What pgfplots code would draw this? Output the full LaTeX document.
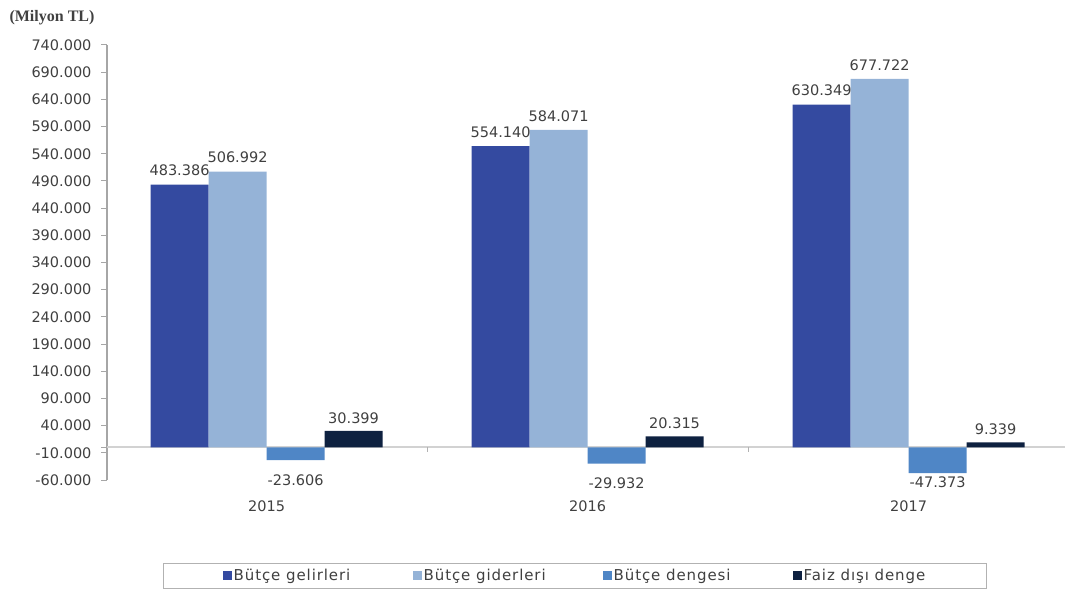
\documentclass[border=0pt]{standalone}
\usepackage{fontspec}
\setmainfont{DejaVu Sans}
\newfontfamily\titlefont{Liberation Serif}
\usepackage{pgfplots}
\pgfplotsset{compat=1.18}
\definecolor{c1}{RGB}{52,74,160}
\definecolor{c2}{RGB}{149,179,215}
\definecolor{c3}{RGB}{79,134,198}
\definecolor{c4}{RGB}{14,33,64}
\definecolor{txt}{RGB}{64,64,64}
\pgfplotsset{sqlegend/.style={legend image code/.code={\fill[##1] (0pt,-4.5pt) rectangle (9pt,4.5pt);}}}
\begin{document}
\begin{tikzpicture}
\useasboundingbox (0,0) rectangle (1067pt,592pt);
\node[anchor=west, font=\titlefont\bfseries\fontsize{16}{18}\selectfont, text=txt] at (6pt,574pt) {(Milyon TL)};
\begin{axis}[
 at={(107pt,112pt)}, anchor=south west,
 width=958pt, height=435pt, scale only axis,
 ybar=0pt, bar width=58pt,
 xmin=-0.497, xmax=2.487,
 ymin=-60000, ymax=740000,
 xtick={0,1,2}, xticklabels={2015,2016,2017},
 ytick={-60000,-10000,40000,90000,140000,190000,240000,290000,340000,390000,440000,490000,540000,590000,640000,690000,740000},
 scaled y ticks=false,
 /pgf/number format/assume math mode=true,
 yticklabel style={/pgf/number format/fixed, /pgf/number format/precision=0, /pgf/number format/1000 sep={.}, xshift=-6pt},
 axis lines*=left,
 x axis line style={draw=none},
 xtick style={draw=none},
 y axis line style={draw=gray!70, line width=1.2pt},
 ytick style={draw=gray!70, line width=1pt},
 ytick align=outside, major tick length=6pt,
 tick label style={font=\fontsize{14.5}{16}\selectfont, text=txt},
 xticklabel style={yshift=-11pt},
 extra y ticks={0}, extra y tick labels={},
 extra y tick style={grid=major, major grid style={draw=gray!35, line width=2pt}, tick style={draw=none}},
 nodes near coords,
 nodes near coords style={font=\fontsize{14.5}{16}\selectfont, text=txt, /pgf/number format/fixed, /pgf/number format/precision=0, /pgf/number format/1000 sep={.}},
 every axis plot post/.append style={sqlegend},
 legend columns=4,
 legend style={at={(0.4885,-0.2195)}, anchor=center, draw=gray!60, line width=0.8pt, font=\fontsize{15}{17}\selectfont\addfontfeature{LetterSpace=6}, text=txt, inner xsep=59pt, inner ysep=4pt},
]
\addplot[fill=c1, draw=none, every node near coord/.append style={yshift=5pt}] coordinates {(0,483386) (1,554140) (2,630349)};
\addlegendentry{\makebox[177pt][l]{Bütçe gelirleri}}
\addplot[fill=c2, draw=none, every node near coord/.append style={yshift=5pt}] coordinates {(0,506992) (1,584071) (2,677722)};
\addlegendentry{\makebox[177pt][l]{Bütçe giderleri}}
\addplot[fill=c3, draw=none, visualization depends on={value \thisrow{off} \as \off}, every node near coord/.append style={yshift=\off pt}] table[x=x, y=y] {
x y off
0 -23606 -11
1 -29932 -11
2 -47373 0
};
\addlegendentry{\makebox[177pt][l]{Bütçe dengesi}}
\addplot[fill=c4, draw=none, every node near coord/.append style={yshift=4pt}] coordinates {(0,30399) (1,20315) (2,9339)};
\addlegendentry{Faiz dışı denge}
\draw[gray!60, line width=1pt] (axis cs:0.5,0) -- ++(0pt,-5pt);
\draw[gray!60, line width=1pt] (axis cs:1.5,0) -- ++(0pt,-5pt);
\end{axis}
\end{tikzpicture}
\end{document}
